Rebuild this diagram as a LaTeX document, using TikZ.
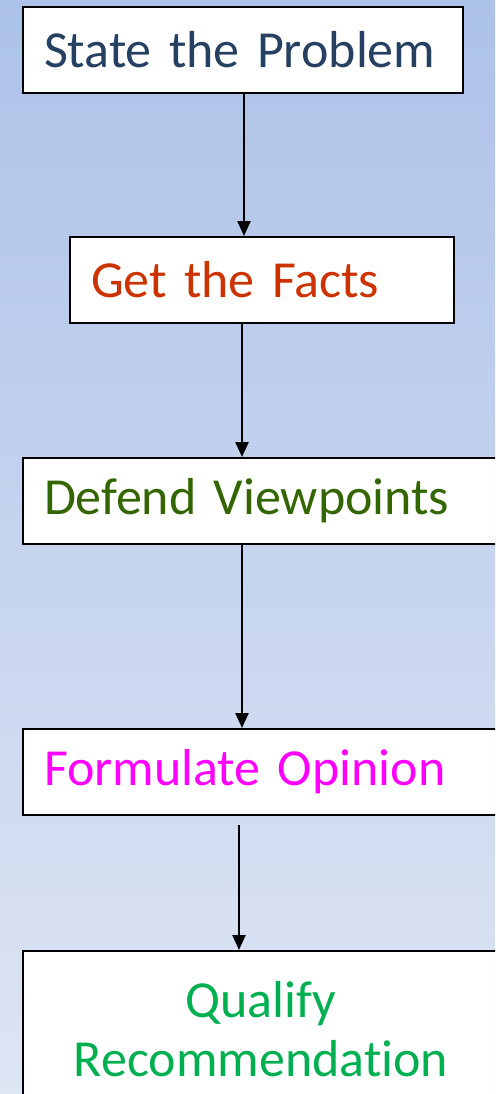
\documentclass[tikz,border=0pt]{standalone}
\usepackage{fontspec}
\setmainfont{Carlito}[Ligatures={NoCommon}]
\usepackage{tikz}
\usetikzlibrary{arrows.meta, calc}
\definecolor{bgtop}{RGB}{173,194,233}
\definecolor{bgbot}{RGB}{222,229,243}
\definecolor{txtnavy}{RGB}{37,64,97}
\definecolor{txtrust}{RGB}{204,51,0}
\definecolor{txtolive}{RGB}{51,102,0}
\definecolor{txtmagenta}{RGB}{255,0,255}
\definecolor{txtgreen}{RGB}{0,176,80}
\newcommand{\boxfont}{\fontsize{52}{59}\selectfont\hyphenpenalty=10000\relax}
\tikzset{
  stepbox/.style={rectangle, draw=black, fill=white, line width=2pt,
    anchor=north west, align=left, inner xsep=21pt, inner ysep=0pt,
    minimum height=86pt, font=\boxfont},
  arrow/.style={-{Triangle[width=13pt,length=15pt]}, line width=2.4pt, color=black}
}

\begin{document}
\begin{tikzpicture}[x=1pt, y=-1pt]
  \useasboundingbox (0,0) rectangle (495,1094);
  \clip (0,0) rectangle (495,1094);
  \fill[top color=bgtop, bottom color=bgbot] (0,0) rectangle (495,1094);

  % Nodes
  \node[stepbox, text width=398pt, text=txtnavy] (state) at (22,6) {State the Problem};
  \node[stepbox, text width=342pt, text=txtrust] (facts) at (69,236) {Get the Facts};
  \node[stepbox, text width=468pt, text=txtolive] (defend) at (22,457) {Defend Viewpoints};
  \node[stepbox, text width=468pt, text=txtmagenta] (opinion) at (22,728) {Formulate Opinion};
  \node[stepbox, text width=434pt, align=center, minimum height=156pt,
    text=txtgreen] (qualify) at (22,950) {Qualify\\Recommendation};

  % Arrows
  \draw[arrow] ($(state.south)+(1,0)$) -- ($(state.south |- facts.north)+(1,0)$);
  \draw[arrow] ($(state.south |- facts.south)+(-1,0)$) -- ($(state.south |- defend.north)+(-1,0)$);
  \draw[arrow] ($(state.south |- defend.south)+(-1,0)$) -- ($(state.south |- opinion.north)+(-1,0)$);
  \draw[arrow, shorten <=9pt] ($(state.south |- opinion.south)+(-4,0)$) -- ($(state.south |- qualify.north)+(-4,0)$);
\end{tikzpicture}
\end{document}
